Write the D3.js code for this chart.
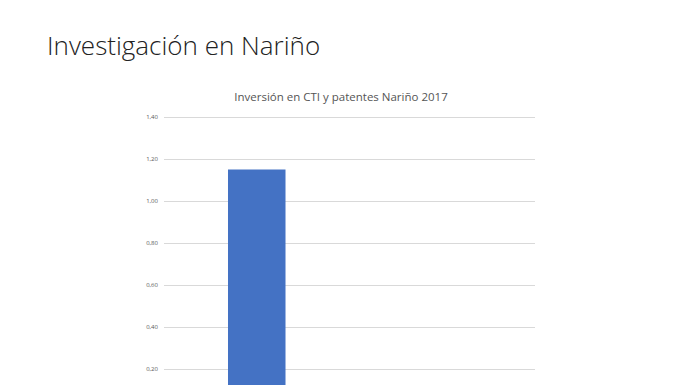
<!DOCTYPE html>
<html>
<head>
    <meta charset="UTF-8">
    <title>Investigación en Nariño</title>
    <script src="https://cdn.jsdelivr.net/npm/d3@7"></script>
    <style>
        body { margin: 0; background: #fff; }
    </style>
</head>
<body>
    <script>
        // datos
        var categorias = ['Inversión en CTI', 'Patentes']
        var valores = [1.15, 0]
        // el 0,00 queda fuera del recorte, así que no se dibuja
        var ticks = [0.2, 0.4, 0.6, 0.8, 1.0, 1.2, 1.4]

        var svg = d3.select('body')
            .append('svg')
            .attr('width', 696)
            .attr('height', 385)

        svg.append('text')
            .text('Investigación en Nariño')
            .attr('x', 47)
            .attr('y', 55)
            .attr('font-family', 'Open Sans')
            .attr('font-weight', 300)
            .attr('font-size', 26)
            .attr('fill', '#222')

        svg.append('text')
            .text('Inversión en CTI y patentes Nariño 2017')
            .attr('x', 341)
            .attr('y', 101)
            .attr('text-anchor', 'middle')
            .attr('font-family', 'Open Sans')
            .attr('font-size', 11.5)
            .attr('fill', '#555')

        var x = d3.scaleBand()
            .domain(categorias)
            .range([164, 535])
            .paddingInner(0.69)
            .paddingOuter(0.345)

        var y = d3.scaleLinear()
            .domain([0, 1.4])
            .range([411, 117])

        var fmt = function(d){ return d3.format('.2f')(d).replace('.', ',') }

        var grid = svg.append('g')
            .attr('transform', 'translate(164,0)')
            .call(d3.axisLeft(y).tickValues(ticks).tickSize(-(535 - 164)).tickFormat(fmt).tickPadding(6))

        grid.select('.domain').remove()
        grid.selectAll('.tick line')
            .attr('stroke', '#d9d9d9')
            .attr('stroke-width', 1)
        grid.selectAll('.tick text')
            .attr('font-family', 'Open Sans')
            .attr('font-size', 6)
            .attr('fill', '#595959')

        svg.selectAll('rect.barra')
            .data(valores)
            .enter()
            .append('rect')
            .attr('class', 'barra')
            .attr('x', function(d, i){ return x(categorias[i]) })
            .attr('y', function(d){ return y(d) })
            .attr('width', x.bandwidth())
            .attr('height', function(d){ return y(0) - y(d) })
            .attr('fill', '#4472c4')
    </script>
</body>
</html>
